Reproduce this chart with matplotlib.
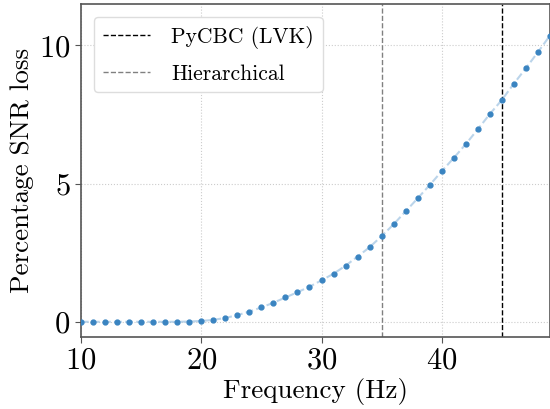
import matplotlib
matplotlib.use("Agg")
import matplotlib.pyplot as plt

freq = [10, 11, 12, 13, 14, 15, 16, 17, 18, 19, 20, 21, 22, 23, 24, 25, 26, 27, 28, 29,
        30, 31, 32, 33, 34, 35, 36, 37, 38, 39, 40, 41, 42, 43, 44, 45, 46, 47, 48, 49]
snr_loss = [0.0, 0.0, 0.0, 0.0, 0.0, 0.0, 0.0, 0.0, 0.0, 0.01, 0.03, 0.07, 0.14, 0.24, 0.37,
            0.52, 0.69, 0.88, 1.07, 1.27, 1.50, 1.74, 2.03, 2.36, 2.70, 3.10, 3.53, 4.00,
            4.47, 4.95, 5.45, 5.93, 6.43, 6.97, 7.52, 8.03, 8.62, 9.18, 9.76, 10.36]
pycbc_freq = 45
hier_freq = 35

plt.rcParams['font.family'] = 'serif'
plt.rcParams['font.serif'] = ['cmr10']
plt.rcParams['mathtext.fontset'] = 'cm'
plt.rcParams['axes.formatter.use_mathtext'] = True

fig = plt.figure(figsize=(5.5, 4.09), dpi=100)
ax = fig.add_axes([81/550, 1-337/409, 1-81/550, (337-4)/409])

ax.plot(freq, snr_loss, ls='--', color='#9ec3e2', alpha=0.7, lw=1.5, zorder=2)
ax.plot(freq, snr_loss, ls='none', marker='o', ms=3.5, color='#3a84c1', zorder=3)
ax.axvline(pycbc_freq, color='black', ls='--', lw=1, label='PyCBC (LVK)')
ax.axvline(hier_freq, color='gray', ls='--', lw=1, label='Hierarchical')

ax.set_xlim(10, 49)
ax.set_ylim(-0.55, 11.5)
ax.set_xticks([10, 20, 30, 40])
ax.set_yticks([0, 5, 10])
ax.grid(True, ls=':', color='#cccccc', lw=0.8)
ax.set_axisbelow(True)
for s in ax.spines.values():
    s.set_color('#555555')
    s.set_linewidth(1.2)
ax.tick_params(labelsize=22, color='#555555', length=4)
ax.set_xlabel('Frequency (Hz)', fontsize=19.5, labelpad=2)
ax.set_ylabel('Percentage SNR loss', fontsize=19.5)
ax.legend(loc='upper left', fontsize=15.5, handlelength=2.2, handletextpad=1.0,
          framealpha=1, edgecolor='#dddddd', borderaxespad=0.6, labelspacing=0.72)

fig.savefig('out.png', dpi=100)
